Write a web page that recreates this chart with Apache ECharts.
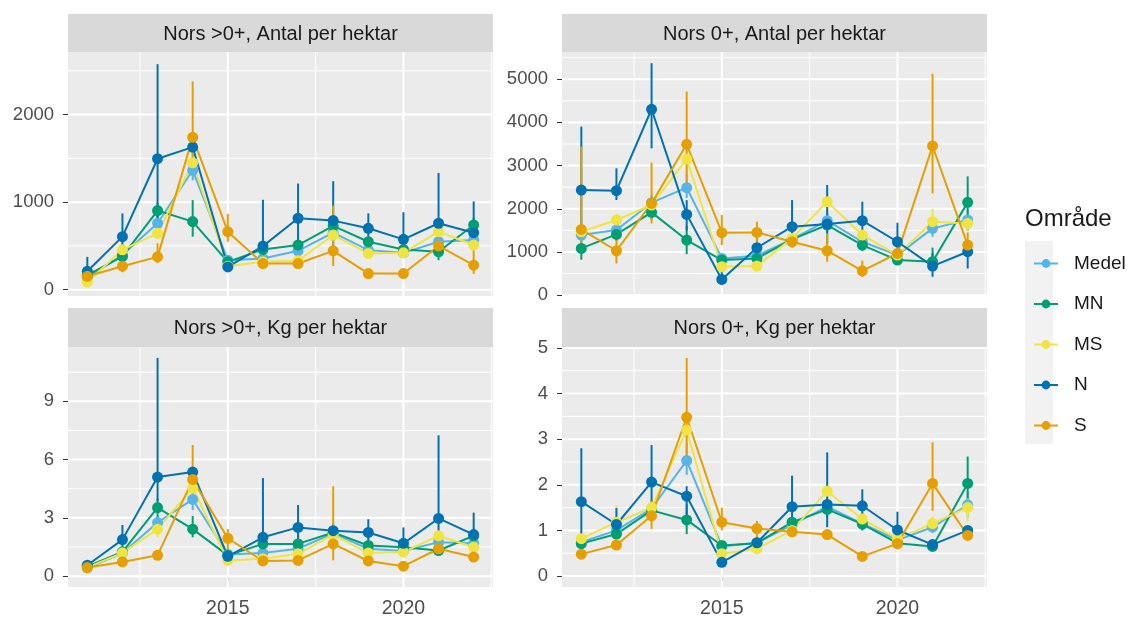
<!DOCTYPE html>
<html>
<head>
<meta charset="utf-8">
<script src="https://cdn.jsdelivr.net/npm/echarts@6/dist/echarts.min.js"></script>
<style>
html,body{margin:0;padding:0;background:#fff;}
#chart{width:1132px;height:619px;}
</style>
</head>
<body>
<div id="chart"></div>
<script>
// ---------------- DATA ----------------
const years = [2011, 2012, 2013, 2014, 2015, 2016, 2017, 2018, 2019, 2020, 2021, 2022];
const groups = ['Medel', 'MN', 'MS', 'N', 'S'];
const panelTitles = ['Nors >0+, Antal per hektar', 'Nors 0+, Antal per hektar', 'Nors >0+, Kg per hektar', 'Nors 0+, Kg per hektar'];
const legendTitle = 'Område';

// Panel A: Nors >0+, Antal per hektar
const A_Medel    = [138, 395, 759, 1364, 337, 356, 444, 651, 452, 421, 548, 567];
const A_Medel_lo = [110, 340, 680, 1250, 300, 320, 400, 600, 410, 380, 490, 510];
const A_Medel_hi = [170, 450, 840, 1590, 380, 400, 490, 700, 500, 460, 600, 620];
const A_MN       = [165, 380, 904, 778, 318, 460, 510, 728, 548, 460, 433, 739];
const A_MN_lo    = [130, 320, 820, 606, 280, 410, 450, 650, 490, 410, 337, 660];
const A_MN_hi    = [200, 440, 990, 1023, 360, 510, 570, 800, 600, 510, 529, 820];
const A_MS       = [88, 455, 644, 1450, 268, 318, 330, 624, 414, 421, 663, 510];
const A_MS_lo    = [60, 400, 580, 1360, 240, 290, 300, 580, 380, 390, 600, 460];
const A_MS_hi    = [120, 510, 710, 1540, 300, 350, 360, 670, 450, 450, 720, 560];
const A_N        = [210, 606, 1496, 1629, 260, 498, 816, 789, 701, 575, 759, 651];
const A_N_lo     = [100, 400, 600, 1560, 220, 318, 414, 500, 567, 430, 529, 500];
const A_N_hi     = [375, 871, 2576, 1700, 300, 1027, 1212, 1239, 871, 885, 1333, 1008];
const A_S        = [153, 268, 375, 1740, 663, 299, 299, 444, 184, 184, 500, 280];
const A_S_lo     = [130, 200, 303, 1401, 548, 260, 270, 270, 150, 150, 420, 180];
const A_S_hi     = [180, 330, 530, 2379, 866, 330, 330, 960, 220, 220, 600, 470];

// Panel B: Nors 0+, Antal per hektar
const B_Medel    = [1391, 1507, 2141, 2488, 850, 912, 1298, 1723, 1236, 927, 1546, 1739];
const B_Medel_lo = [1250, 1380, 1950, 2250, 760, 820, 1180, 1550, 1120, 840, 1350, 1500];
const B_Medel_hi = [1530, 1640, 2330, 2800, 940, 1000, 1420, 1900, 1350, 1010, 1750, 2000];
const B_MN       = [1082, 1406, 1917, 1275, 811, 850, 1291, 1623, 1159, 811, 773, 2148];
const B_MN_lo    = [820, 1250, 1750, 950, 720, 750, 1150, 1450, 1020, 720, 560, 1500];
const B_MN_hi    = [1350, 1560, 2100, 1600, 900, 950, 1430, 1800, 1300, 900, 1100, 2750];
const B_MS       = [1468, 1739, 2087, 3150, 657, 672, 1314, 2164, 1391, 927, 1700, 1661];
const B_MS_lo    = [1330, 1600, 1950, 2800, 580, 600, 1200, 1950, 1250, 840, 1450, 1500];
const B_MS_hi    = [1600, 1880, 2230, 3400, 740, 750, 1430, 2350, 1530, 1010, 2000, 1820];
const B_N        = [2434, 2419, 4304, 1870, 363, 1097, 1584, 1646, 1723, 1236, 672, 1005];
const B_N_lo     = [1430, 2203, 3400, 1500, 250, 850, 1198, 1198, 1430, 966, 425, 618];
const B_N_hi     = [3903, 2937, 5371, 2200, 560, 1300, 2202, 2550, 2164, 1677, 966, 1120];
const B_S        = [1522, 1028, 2125, 3493, 1445, 1453, 1236, 1028, 564, 966, 3454, 1159];
const B_S_lo     = [966, 734, 1662, 2512, 1159, 1159, 1100, 773, 420, 800, 2357, 900];
const B_S_hi     = [3439, 1430, 3068, 4714, 1855, 1700, 1400, 1430, 800, 1100, 5124, 1450];

// Panel C: Nors >0+, Kg per hektar
const C_Medel    = [0.42, 1.19, 2.76, 3.95, 1.12, 1.19, 1.41, 2.20, 1.41, 1.29, 1.75, 1.69];
const C_Medel_lo = [0.35, 1.0, 2.4, 3.4, 0.95, 1.0, 1.25, 2.0, 1.25, 1.15, 1.5, 1.45];
const C_Medel_hi = [0.5, 1.4, 3.1, 4.4, 1.3, 1.4, 1.6, 2.4, 1.6, 1.45, 2.0, 1.95];
const C_MN       = [0.50, 1.25, 3.53, 2.42, 1.07, 1.66, 1.66, 2.25, 1.58, 1.49, 1.32, 2.08];
const C_MN_lo    = [0.4, 1.05, 3.0, 2.0, 0.9, 1.45, 1.45, 2.0, 1.4, 1.3, 1.1, 1.7];
const C_MN_hi    = [0.6, 1.45, 4.0, 3.1, 1.25, 1.9, 1.9, 2.5, 1.8, 1.7, 1.55, 2.45];
const C_MS       = [0.45, 1.20, 2.42, 4.54, 0.81, 0.90, 1.15, 2.14, 1.19, 1.24, 2.08, 1.49];
const C_MS_lo    = [0.38, 1.0, 2.0, 4.0, 0.65, 0.75, 1.0, 1.9, 1.0, 1.05, 1.8, 1.25];
const C_MS_hi    = [0.52, 1.4, 2.9, 5.0, 0.95, 1.05, 1.3, 2.4, 1.4, 1.45, 2.4, 1.75];
const C_N        = [0.56, 1.88, 5.10, 5.36, 1.02, 2.00, 2.51, 2.34, 2.25, 1.69, 2.97, 2.14];
const C_N_lo     = [0.35, 1.3, 3.86, 5.0, 0.8, 1.3, 1.83, 2.0, 1.66, 0.98, 2.0, 1.32];
const C_N_hi     = [0.75, 2.63, 11.24, 5.6, 1.2, 5.05, 3.66, 2.7, 2.93, 2.51, 7.25, 3.27];
const C_S        = [0.44, 0.73, 1.07, 4.97, 1.95, 0.78, 0.81, 1.66, 0.78, 0.51, 1.41, 0.98];
const C_S_lo     = [0.35, 0.6, 0.9, 3.7, 1.32, 0.65, 0.68, 0.81, 0.65, 0.4, 1.2, 0.8];
const C_S_hi     = [0.55, 0.9, 1.25, 6.75, 2.42, 0.92, 0.95, 4.63, 0.92, 0.62, 1.65, 1.15];

// Panel D: Nors 0+, Kg per hektar
const D_Medel    = [0.74, 1.00, 1.48, 2.53, 0.65, 0.73, 1.12, 1.52, 1.15, 0.79, 1.07, 1.56];
const D_Medel_lo = [0.65, 0.9, 1.35, 2.22, 0.58, 0.65, 1.0, 1.35, 1.0, 0.7, 0.95, 1.28];
const D_Medel_hi = [0.85, 1.1, 1.6, 2.91, 0.72, 0.8, 1.25, 1.7, 1.3, 0.88, 1.2, 1.86];
const D_MN       = [0.71, 0.92, 1.44, 1.23, 0.67, 0.72, 1.18, 1.46, 1.14, 0.72, 0.65, 2.03];
const D_MN_lo    = [0.63, 0.82, 1.3, 0.92, 0.6, 0.65, 1.05, 1.3, 1.0, 0.65, 0.57, 1.43];
const D_MN_hi    = [0.8, 1.02, 1.58, 1.57, 0.75, 0.8, 1.3, 1.6, 1.28, 0.8, 0.73, 2.62];
const D_MS       = [0.82, 1.18, 1.50, 3.20, 0.49, 0.60, 1.00, 1.86, 1.25, 0.82, 1.15, 1.50];
const D_MS_lo    = [0.72, 1.0, 1.35, 2.9, 0.42, 0.52, 0.9, 1.6, 1.1, 0.72, 1.0, 1.2];
const D_MS_hi    = [0.92, 1.55, 1.65, 3.5, 0.56, 0.68, 1.1, 2.0, 1.4, 0.92, 1.3, 1.7];
const D_N        = [1.63, 1.13, 2.06, 1.75, 0.30, 0.73, 1.52, 1.57, 1.54, 1.01, 0.69, 1.00];
const D_N_lo     = [0.72, 0.85, 1.43, 1.28, 0.22, 0.6, 1.0, 1.07, 1.14, 0.74, 0.6, 0.9];
const D_N_hi     = [2.80, 1.49, 2.87, 1.97, 0.38, 0.85, 2.2, 2.71, 1.9, 1.41, 0.8, 1.1];
const D_S        = [0.48, 0.68, 1.32, 3.48, 1.18, 1.04, 0.97, 0.91, 0.43, 0.71, 2.03, 0.89];
const D_S_lo     = [0.42, 0.6, 1.03, 2.44, 1.0, 0.85, 0.88, 0.83, 0.37, 0.64, 1.43, 0.8];
const D_S_hi     = [0.55, 0.76, 1.65, 4.78, 1.5, 1.21, 1.05, 1.0, 0.5, 0.78, 2.93, 0.98];

// Tick labels
const xTicks = [2015, 2020];
const xMinor = [2012.5, 2017.5, 2022.5];
const yTicksA = [0, 1000, 2000];
const yMinorA = [500, 1500, 2500];
const yTicksB = [0, 1000, 2000, 3000, 4000, 5000];
const yMinorB = [500, 1500, 2500, 3500, 4500, 5500];
const yTicksC = [0, 3, 6, 9];
const yMinorC = [1.5, 4.5, 7.5, 10.5];
const yTicksD = [0, 1, 2, 3, 4, 5];
const yMinorD = [0.5, 1.5, 2.5, 3.5, 4.5];

// ---------------- ASSEMBLY ----------------
const panelData = [
  {Medel: [A_Medel, A_Medel_lo, A_Medel_hi], MN: [A_MN, A_MN_lo, A_MN_hi], MS: [A_MS, A_MS_lo, A_MS_hi], N: [A_N, A_N_lo, A_N_hi], S: [A_S, A_S_lo, A_S_hi]},
  {Medel: [B_Medel, B_Medel_lo, B_Medel_hi], MN: [B_MN, B_MN_lo, B_MN_hi], MS: [B_MS, B_MS_lo, B_MS_hi], N: [B_N, B_N_lo, B_N_hi], S: [B_S, B_S_lo, B_S_hi]},
  {Medel: [C_Medel, C_Medel_lo, C_Medel_hi], MN: [C_MN, C_MN_lo, C_MN_hi], MS: [C_MS, C_MS_lo, C_MS_hi], N: [C_N, C_N_lo, C_N_hi], S: [C_S, C_S_lo, C_S_hi]},
  {Medel: [D_Medel, D_Medel_lo, D_Medel_hi], MN: [D_MN, D_MN_lo, D_MN_hi], MS: [D_MS, D_MS_lo, D_MS_hi], N: [D_N, D_N_lo, D_N_hi], S: [D_S, D_S_lo, D_S_hi]}
];
const yTicks = [yTicksA, yTicksB, yTicksC, yTicksD];
const yMinor = [yMinorA, yMinorB, yMinorC, yMinorD];

// layout / style
const colors = {Medel: '#56B4E9', MN: '#009E73', MS: '#F0E442', N: '#0072B2', S: '#E69F00'};
const FONT = '"Liberation Sans", Arial, Helvetica, sans-serif';
const X_MIN = 2010.45, X_MAX = 2022.55;
const yRanges = [[-72, 2715], [-20, 5630], [-0.56, 11.8], [-0.24, 5.02]];
const gridBoxes = [
  {left: 68, top: 52, width: 425, height: 244},
  {left: 562, top: 52, width: 425, height: 244},
  {left: 68, top: 347, width: 425, height: 243},
  {left: 562, top: 347, width: 425, height: 243}
];
const stripBoxes = [
  {x: 68, y: 14, w: 425, h: 38},
  {x: 562, y: 14, w: 425, h: 38},
  {x: 68, y: 308, w: 425, h: 39},
  {x: 562, y: 308, w: 425, h: 39}
];

function renderGridLines(params, api) {
  const cs = params.coordSys;
  const v = api.value(0), kind = api.value(1);
  const w = (kind === 0 || kind === 2) ? 2 : 1;
  if (kind < 2) {
    const y = api.coord([X_MIN, v])[1];
    return {type: 'line', shape: {x1: cs.x, y1: y, x2: cs.x + cs.width, y2: y}, style: {stroke: '#FFFFFF', lineWidth: w}, silent: true};
  }
  const x = api.coord([v, 0])[0];
  return {type: 'line', shape: {x1: x, y1: cs.y, x2: x, y2: cs.y + cs.height}, style: {stroke: '#FFFFFF', lineWidth: w}, silent: true};
}

function renderErr(params, api) {
  const x = api.value(0);
  const p1 = api.coord([x, api.value(1)]);
  const p2 = api.coord([x, api.value(2)]);
  return {type: 'line', shape: {x1: p1[0], y1: p1[1], x2: p2[0], y2: p2[1]}, style: {stroke: api.visual('color'), lineWidth: 2}};
}

const grids = [], xAxes = [], yAxes = [], series = [], graphics = [];

for (let i = 0; i < 4; i++) {
  const bottom = i >= 2;
  grids.push(Object.assign({show: true, backgroundColor: '#EBEBEB', borderWidth: 0, containLabel: false}, gridBoxes[i]));
  xAxes.push({
    type: 'value', gridIndex: i, min: X_MIN, max: X_MAX,
    splitLine: {show: false}, axisLine: {show: false},
    axisTick: {show: bottom, customValues: xTicks, length: 5, lineStyle: {color: '#333333', width: 1}},
    axisLabel: {show: bottom, customValues: xTicks, formatter: v => String(v), color: '#4D4D4D', fontSize: 19.5, fontFamily: FONT, margin: 12}
  });
  yAxes.push({
    type: 'value', gridIndex: i, min: yRanges[i][0], max: yRanges[i][1],
    splitLine: {show: false}, axisLine: {show: false},
    axisTick: {show: true, customValues: yTicks[i], length: 5, lineStyle: {color: '#333333', width: 1}},
    axisLabel: {show: true, customValues: yTicks[i], formatter: v => String(v), color: '#4D4D4D', fontSize: 18.5, fontFamily: FONT, margin: 14}
  });
  // grid lines
  const gl = [];
  yTicks[i].forEach(v => gl.push([v, 0]));
  yMinor[i].forEach(v => gl.push([v, 1]));
  xTicks.forEach(v => gl.push([v, 2]));
  xMinor.forEach(v => gl.push([v, 3]));
  series.push({
    type: 'custom', xAxisIndex: i, yAxisIndex: i, silent: true, z: 1,
    renderItem: renderGridLines, data: gl, encode: {x: 0, y: 1}, tooltip: {show: false}
  });
  // strips
  const sb = stripBoxes[i];
  graphics.push({type: 'rect', shape: {x: sb.x, y: sb.y, width: sb.w, height: sb.h}, style: {fill: '#D9D9D9'}, silent: true});
  graphics.push({type: 'text', x: sb.x + sb.w / 2, y: sb.y + sb.h / 2 + 1, style: {text: panelTitles[i], fill: '#1A1A1A', fontSize: 20, fontFamily: FONT, align: 'center', verticalAlign: 'middle'}, silent: true});
}

// lines
for (let i = 0; i < 4; i++) {
  groups.forEach(g => {
    const vals = panelData[i][g][0];
    series.push({
      type: 'line', name: g, xAxisIndex: i, yAxisIndex: i, z: 2,
      data: years.map((y, k) => [y, vals[k]]),
      symbol: 'circle', symbolSize: 11, showSymbol: false,
      lineStyle: {width: 2, color: colors[g]}, itemStyle: {color: colors[g]},
      emphasis: {disabled: true}
    });
  });
}
// error bars
for (let i = 0; i < 4; i++) {
  groups.forEach(g => {
    const [vals, lo, hi] = panelData[i][g];
    series.push({
      type: 'custom', name: g, xAxisIndex: i, yAxisIndex: i, z: 3,
      renderItem: renderErr, itemStyle: {color: colors[g]},
      data: years.map((y, k) => [y, lo[k], hi[k]]),
      encode: {x: 0, y: [1, 2]}
    });
  });
}
// points
for (let i = 0; i < 4; i++) {
  groups.forEach(g => {
    const vals = panelData[i][g][0];
    series.push({
      type: 'scatter', name: g, xAxisIndex: i, yAxisIndex: i, z: 4,
      data: years.map((y, k) => [y, vals[k]]),
      symbol: 'circle', symbolSize: 11, itemStyle: {color: colors[g], opacity: 1},
      emphasis: {disabled: true}
    });
  });
}

// legend key background + title
graphics.push({type: 'rect', shape: {x: 1025, y: 241, width: 28, height: 203}, style: {fill: '#F2F2F2'}, silent: true, z: -1});
graphics.push({type: 'text', x: 1025, y: 219, style: {text: legendTitle, fill: '#1A1A1A', fontSize: 24, fontFamily: FONT, align: 'left', verticalAlign: 'middle'}, silent: true});

const option = {
  animation: false,
  backgroundColor: '#FFFFFF',
  textStyle: {fontFamily: FONT},
  grid: grids,
  xAxis: xAxes,
  yAxis: yAxes,
  legend: {
    data: groups, orient: 'vertical', left: 1028, top: 249,
    itemWidth: 24, itemHeight: 11, itemGap: 21.5,
    selectedMode: false,
    textStyle: {fontSize: 19, color: '#1A1A1A', lineHeight: 18, padding: [0, 0, 0, 11], fontFamily: FONT}
  },
  graphic: graphics,
  series: series
};

const chart = echarts.init(document.getElementById('chart'), null, {renderer: 'canvas'});
chart.setOption(option);
</script>
</body>
</html>
